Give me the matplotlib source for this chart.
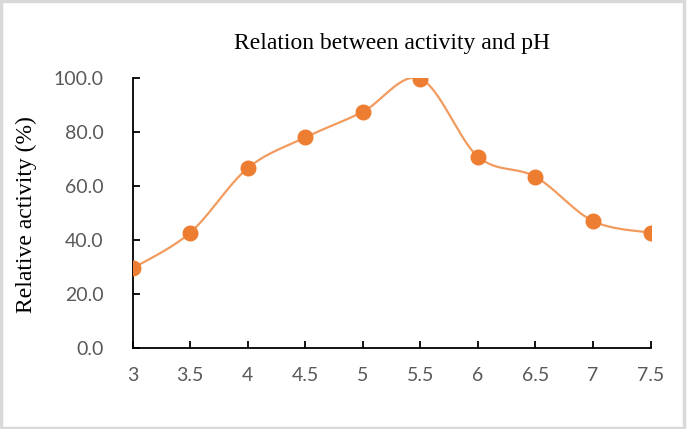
import numpy as np
import matplotlib.pyplot as plt
from matplotlib.patches import Rectangle

# pH values and relative activity (%)
ph = [3, 3.5, 4, 4.5, 5, 5.5, 6, 6.5, 7, 7.5]
ph_labels = ["3", "3.5", "4", "4.5", "5", "5.5", "6", "6.5", "7", "7.5"]
activity = [29.5, 42.7, 66.6, 78.0, 87.5, 99.7, 70.9, 63.4, 47.0, 42.7]
y_ticks = [0, 20, 40, 60, 80, 100]

# smoothed line like a spreadsheet "smoothed line" (cardinal spline)
def smooth(x, y, n=30):
    x = np.asarray(x, float)
    y = np.asarray(y, float)
    px = np.concatenate([[x[0]], x, [x[-1]]])
    py = np.concatenate([[y[0]], y, [y[-1]]])
    xs, ys = [], []
    t = np.linspace(0, 1, n)
    for i in range(1, len(px) - 2):
        p0 = np.array([px[i], py[i]])
        p3 = np.array([px[i + 1], py[i + 1]])
        p1 = p0 + (np.array([px[i + 1], py[i + 1]]) - np.array([px[i - 1], py[i - 1]])) / 6
        p2 = p3 - (np.array([px[i + 2], py[i + 2]]) - np.array([px[i], py[i]])) / 6
        b = ((1 - t) ** 3)[:, None] * p0 + (3 * (1 - t) ** 2 * t)[:, None] * p1 \
            + (3 * (1 - t) * t ** 2)[:, None] * p2 + (t ** 3)[:, None] * p3
        xs.extend(b[:, 0])
        ys.extend(b[:, 1])
    return np.array(xs), np.array(ys)

fig = plt.figure(figsize=(6.87, 4.29), dpi=100)
ax = fig.add_axes([0.193, 0.189, 0.754, 0.629])

sx, sy = smooth(ph, activity)
ax.plot(sx, sy, color='#F29B5E', lw=1.6, zorder=2)
ax.plot(ph, activity, 'o', color='#ED7D31', markersize=10.5, zorder=3)

ax.set_xlim(3, 7.5)
ax.set_ylim(0, 100)
ax.set_xticks(ph)
ax.set_xticklabels(ph_labels)
ax.set_yticks(y_ticks)
ax.set_yticklabels([f"{v:.1f}" for v in y_ticks])

for s in ['top', 'right']:
    ax.spines[s].set_visible(False)
for s in ['left', 'bottom']:
    ax.spines[s].set_linewidth(1.3)
    ax.spines[s].set_color('black')

ax.tick_params(axis='both', direction='in', length=5, width=1.3,
               labelsize=14, labelcolor='#595959')
ax.tick_params(axis='y', pad=21)
ax.tick_params(axis='x', pad=14)
for lab in ax.get_xticklabels() + ax.get_yticklabels():
    lab.set_fontfamily('Lato')

fig.text(0.571, 0.898, "Relation between activity and pH", ha='center', va='center',
         fontsize=17, family='Liberation Serif')
fig.text(0.038, 0.5, "Relative activity (%)", ha='center', va='center',
         rotation=90, fontsize=17, family='Liberation Serif')

fig.patches.append(Rectangle((0.002, 0.003), 0.994, 0.994, transform=fig.transFigure,
                             fill=False, edgecolor='#d9d9d9', lw=2.5))

fig.savefig('out.png', dpi=100)
